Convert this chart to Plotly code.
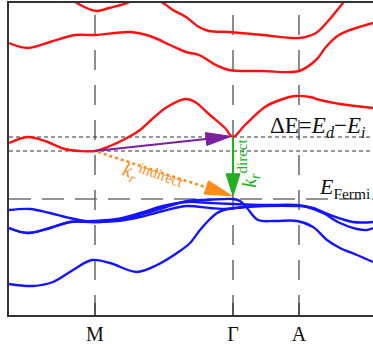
import math
import plotly.graph_objects as go

# ---- k-path (arbitrary units along path) ----
tick_k = [86, 224, 290]
tick_text = ["M", "Γ", "A"]
k_range = [0, 364]
E_range = [-2.9, 4.9]

# ---- conduction bands (eV, relative to E_Fermi) ----
cb1_k = [0, 19, 36, 56, 71, 86, 101, 116, 131, 141, 158, 177, 186, 201, 216, 224, 236, 256, 271, 286, 301, 311, 331, 364]
cb1_E = [1.40, 1.55, 1.45, 1.25, 1.2, 1.2, 1.325, 1.5, 1.725, 1.95, 2.3, 2.5, 2.425, 2.1, 1.775, 1.55, 1.85, 2.3, 2.475, 2.575, 2.55, 2.475, 2.375, 2.275]

cb2_k = [0, 19, 41, 66, 86, 121, 141, 161, 177, 190, 207, 220, 254, 290, 307, 317, 330, 364]
cb2_E = [3.9, 3.775, 3.925, 4.1, 4.1, 4.175, 4.075, 3.85, 3.675, 3.6, 3.35, 3.225, 3.2, 3.2, 3.475, 3.8, 4.1, 4.4]

cb3_k = [51, 68, 80, 88, 100, 118, 135, 154, 164, 177, 190, 200, 220, 254, 290, 307, 320, 334, 345]
cb3_E = [5.25, 4.9, 4.75, 4.7, 4.775, 4.9, 5.1, 4.9, 4.725, 4.55, 4.3, 4.2, 4.175, 4.1, 4.025, 4.15, 4.475, 4.9, 5.2]

# ---- valence bands ----
vb1_k = [0, 21, 41, 61, 84, 108, 131, 154, 178, 201, 224, 231, 238, 249, 266, 288, 304, 318, 331, 348, 364]
vb1_E = [-0.275, -0.25, -0.35, -0.475, -0.575, -0.525, -0.4, -0.225, -0.05, -0.02, 0.0, -0.05, -0.225, -0.525, -0.55, -0.55, -0.7, -1.025, -1.225, -1.4, -1.575]

vb2_k = [0, 19, 41, 61, 84, 108, 131, 154, 178, 201, 224, 251, 288, 304, 321, 344, 364]
vb2_E = [-0.725, -0.85, -0.725, -0.575, -0.55, -0.5, -0.35, -0.175, -0.075, -0.1, -0.125, -0.15, -0.15, -0.225, -0.4, -0.575, -0.575]

vb3_k = [0, 19, 41, 61, 84, 108, 131, 154, 178, 201, 218, 236, 288, 298, 314, 331, 348, 358, 364]
vb3_E = [-0.725, -0.85, -0.725, -0.575, -0.575, -0.55, -0.45, -0.3, -0.175, -0.225, -0.25, -0.2, -0.175, -0.2, -0.35, -0.6, -0.75, -0.775, -0.725]

vb4_k = [0, 24, 44, 64, 83, 101, 128, 148, 168, 181, 191, 201, 208, 218, 236]
vb4_E = [-2.125, -2.175, -2.075, -1.775, -1.525, -1.6, -1.825, -1.65, -1.35, -1.1, -0.775, -0.5, -0.35, -0.25, -0.2]

# ---- reference levels ----
E_fermi = 0.0
E_dir = 1.55     # CBM at Gamma
E_ind = 1.2      # CB at M

# arrows: (tail_k, tail_E, tip_k, tip_E)
arrow_purple = (86, 1.2, 222, 1.565)
arrow_orange = (89, 1.175, 223, 0.08)
arrow_green = (224, 1.55, 224, 0.08)

# ---- layout geometry ----
W, H = 373, 346
ML, MR, MT, MB = 9, 0, 3, 31
pw, ph = W - ML - MR, H - MT - MB
sx = pw / (k_range[1] - k_range[0])
sy = ph / (E_range[1] - E_range[0])

fig = go.Figure()

red = "#ff1010"
blue = "#1414ff"
for kk, ee in [(cb1_k, cb1_E), (cb2_k, cb2_E), (cb3_k, cb3_E)]:
    fig.add_trace(go.Scatter(x=kk, y=ee, mode="lines", line=dict(color=red, width=2.4, shape="spline", smoothing=1.0),
                             hoverinfo="skip", showlegend=False))
for kk, ee in [(vb4_k, vb4_E), (vb3_k, vb3_E), (vb2_k, vb2_E), (vb1_k, vb1_E)]:
    fig.add_trace(go.Scatter(x=kk, y=ee, mode="lines", line=dict(color=blue, width=2.4, shape="spline", smoothing=1.0),
                             hoverinfo="skip", showlegend=False))


def add_arrow(a, color, dash, hl, hw, lw):
    k0, e0, k1, e1 = a
    dxp = (k1 - k0) * sx
    dyp = -(e1 - e0) * sy
    L = math.hypot(dxp, dyp)
    ux, uy = dxp / L, dyp / L
    nx, ny = -uy, ux
    bx, by = -ux * hl, -uy * hl
    base_k = k1 + bx / sx
    base_e = e1 - by / sy
    c1k = k1 + (bx + nx * hw / 2) / sx
    c1e = e1 - (by + ny * hw / 2) / sy
    c2k = k1 + (bx - nx * hw / 2) / sx
    c2e = e1 - (by - ny * hw / 2) / sy
    fig.add_trace(go.Scatter(x=[k0, base_k], y=[e0, base_e], mode="lines",
                             line=dict(color=color, width=lw, dash=dash), hoverinfo="skip", showlegend=False))
    fig.add_trace(go.Scatter(x=[k1, c1k, c2k, k1], y=[e1, c1e, c2e, e1], mode="lines", fill="toself",
                             fillcolor=color, line=dict(color=color, width=1), hoverinfo="skip", showlegend=False))


add_arrow(arrow_purple, "#7a1fa0", "solid", 25, 13, 2)
add_arrow(arrow_orange, "#ff8c1a", "dot", 27, 14, 2.6)
add_arrow(arrow_green, "#22b022", "solid", 22, 14, 2)

shapes = []
for kv in tick_k:
    shapes.append(dict(type="line", xref="x", yref="paper", x0=kv, x1=kv, y0=0, y1=1,
                       line=dict(color="#707070", width=1.6, dash="20px,15px"), layer="below"))
shapes.append(dict(type="line", xref="paper", yref="y", x0=0, x1=1, y0=E_fermi, y1=E_fermi,
                   line=dict(color="#707070", width=1.6, dash="22px,11px"), layer="below"))
for ev in [E_dir, E_ind]:
    shapes.append(dict(type="line", xref="paper", yref="y", x0=0, x1=1, y0=ev, y1=ev,
                       line=dict(color="#333333", width=1.2, dash="4px,3px"), layer="below"))

serif = "Liberation Serif, Times New Roman, serif"
sup_big = "<sup><span style='font-size:15px'>{}</span></sup>"
annotations = [
    dict(x=259, y=1.8, xref="x", yref="y", xanchor="left", yanchor="middle", showarrow=False,
         text="ΔE=<i>E</i><sub><i>d</i></sub>−<i>E</i><sub><i>i</i></sub>",
         font=dict(family=serif, size=23, color="#111111")),
    dict(x=308, y=0.27, xref="x", yref="y", xanchor="left", yanchor="middle", showarrow=False,
         text="<i>E</i><sub>Fermi</sub>",
         font=dict(family=serif, size=22, color="#111111")),
    dict(x=240, y=0.88, xref="x", yref="y", xanchor="center", yanchor="middle", showarrow=False,
         text="<i>k</i><sub><i>r</i></sub>" + sup_big.format("direct"), textangle=-90,
         font=dict(family=serif, size=20, color="#22b022")),
    dict(x=143, y=0.52, xref="x", yref="y", xanchor="center", yanchor="middle", showarrow=False,
         text="<i>k</i><sub><i>r</i></sub>" + sup_big.format("indirect"), textangle=20,
         font=dict(family=serif, size=20, color="#ff8c1a")),
]

fig.update_layout(
    width=W, height=H, margin=dict(l=ML, r=MR, t=MT, b=MB, pad=0, autoexpand=False),
    paper_bgcolor="white", plot_bgcolor="white",
    shapes=shapes, annotations=annotations, showlegend=False,
    xaxis=dict(range=k_range, showgrid=False, zeroline=False, showline=True, mirror=True, automargin=False,
               linecolor="#333333", linewidth=2, tickmode="array", tickvals=tick_k, ticktext=tick_text,
               ticks="inside", ticklen=12, tickwidth=1.6, tickcolor="#555555",
               tickfont=dict(family=serif, size=20, color="#111111")),
    yaxis=dict(range=E_range, showgrid=False, zeroline=False, showline=True, mirror=False, automargin=False,
               linecolor="#333333", linewidth=2, showticklabels=False, ticks=""),
)

fig.write_html("out.html")
